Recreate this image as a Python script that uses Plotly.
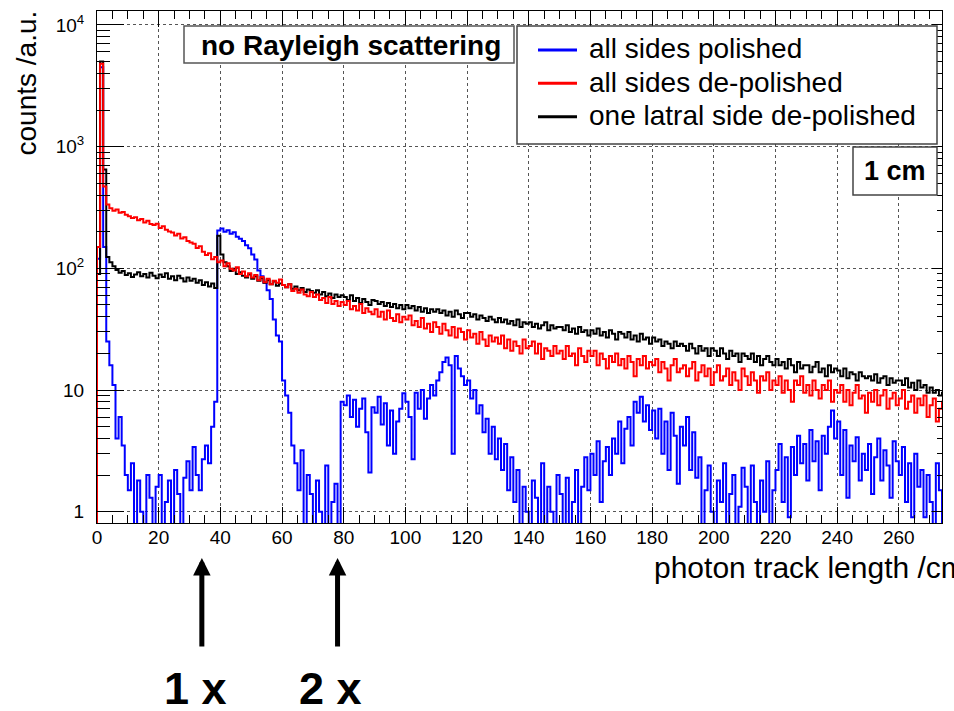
import plotly.graph_objects as go

# ---------------- data (1 cm bins, left edges 0..274 cm) ----------------
bin_left_cm = list(range(0, 275))
x_end_cm = 275

blue_counts = [
    120, 4500, 150, 25, 16, 11, 4, 6, 3.5, 2,
    1.5, 2.5, 0, 1.8, 1, 0, 2, 1.3, 0, 1.6,
    2, 0, 1.2, 1.8, 0, 2.2, 1.4, 0, 1.9, 2.6,
    1.5, 3.4, 2, 1.5, 2.7, 3.5, 2.5, 5, 8, 205,
    213, 200, 206, 192, 198, 182, 175, 168, 155, 146,
    130, 118, 96, 86, 76, 66, 56, 38, 28, 25,
    12, 9, 6.5, 3.5, 2.5, 1.5, 3.2, 0, 2, 1.4,
    0, 1.8, 1, 0, 2.4, 0, 1.2, 1.7, 0, 8,
    7.5, 9, 6, 8.3, 5, 7, 8.5, 4.5, 2.1, 7.2,
    6.5, 8.8, 5.2, 7.8, 3.5, 6.8, 3, 5.5, 7, 9.4,
    8, 6, 2.7, 9.5, 7, 10, 5.8, 8.5, 11, 9,
    12, 14, 17, 18.5, 16, 3, 19, 15, 13, 11,
    12, 8.5, 10, 6.4, 7.5, 4.5, 5.8, 3, 5, 2.7,
    4, 2.2, 3.6, 1.5, 2.8, 1.2, 2.2, 0, 1.6, 1,
    0, 1.8, 1.3, 0, 2.5, 0, 1.6, 1, 0, 2,
    1.4, 0, 1.9, 0, 1.2, 2.2, 0, 1.6, 2.8, 1.5,
    3, 2, 3.8, 1.2, 2.6, 3.4, 2, 4, 3, 5.5,
    2.5, 4.8, 6, 3.5, 8, 6.5, 8.8, 5.5, 7.5, 4.7,
    6.8, 4, 7, 3, 5.5, 2.2, 6.5, 4.2, 1.7, 5,
    3.5, 6, 2.2, 4.5, 1.9, 2.8, 0, 1.5, 2.4, 1,
    0, 1.8, 1.2, 2.5, 0, 1.4, 2, 0, 1.1, 2.3,
    1.6, 0, 2.4, 1.2, 0, 1.8, 1, 2.6, 0, 1.5,
    2.2, 3.6, 1.2, 2.8, 0.9, 3.4, 2, 4.2, 2.5, 3.6,
    1.8, 4.7, 2.6, 3.8, 1.5, 4.2, 3, 5, 6.8, 4,
    5.5, 2, 4.7, 1.3, 3.5, 2.6, 4.1, 1.8, 3, 2.2,
    3.6, 1.4, 2.8, 4, 1.8, 3.2, 2.4, 1.3, 3.8, 2.6,
    2, 3.4, 1.2, 2.5, 0.9, 3, 1.6, 2.2, 0.9, 2,
    1.2, 0, 2.5, 1.5, 0,
]

red_counts = [
    150, 4800, 470, 335, 312, 298, 305, 287, 291, 276,
    268, 259, 263, 249, 254, 238, 246, 231, 227, 233,
    215, 222, 208, 201, 197, 186, 192, 176, 180, 168,
    163, 159, 147, 152, 137, 129, 133, 119, 124, 112,
    116, 104, 110, 99, 96, 102, 90, 94, 86, 91,
    84, 88, 80, 85, 77, 82, 74, 79, 76, 81,
    73, 70, 74, 65, 68, 63, 67, 61, 59, 64,
    58, 61, 55, 57, 52, 58, 51, 54, 49, 53,
    50, 54, 46, 49, 45, 51, 43, 47, 44, 42,
    46, 40, 44, 38, 45, 39, 37, 42, 36, 40,
    38, 41, 34, 37, 33, 39, 32, 35, 30, 36,
    33, 29, 35, 31, 28, 33, 27, 32, 30, 26,
    31, 27, 29, 24, 30, 26, 23, 28, 25, 27,
    24, 28, 22, 26, 21, 25, 23, 20, 26, 22,
    23, 25, 20, 24, 18, 22, 21, 19, 23, 20,
    21, 18, 23, 19, 20, 16, 22, 19, 17, 21,
    19, 21, 16, 20, 18, 15, 19, 17, 20, 16,
    18, 15, 19, 17, 13, 18, 16, 19, 15, 17,
    16, 18, 14, 17, 15, 12, 16, 18, 14, 15,
    16, 13, 15, 17, 12, 14, 16, 13, 15, 11,
    14, 16, 12, 13, 15, 11, 14, 12, 10, 15,
    13, 11, 14, 12, 9.5, 13, 12, 14, 10, 12,
    11, 13, 9.5, 12, 10, 8, 12, 11, 13, 9.5,
    11, 9, 12, 10, 8.5, 11, 10, 12, 8, 10,
    9.5, 11, 8, 10, 7.5, 9.5, 11, 8.5, 9, 6.5,
    9.5, 8, 10, 7.5, 9, 10, 7, 8.5, 9.5, 7.5,
    8.5, 10, 7, 8, 9, 6.5, 8.5, 7.5, 9, 6,
    7.5, 8.5, 5.5, 7, 8,
]

black_counts = [
    90, 5000, 650, 124, 112, 104, 97, 92, 95, 88,
    91, 85, 89, 93, 86, 90, 84, 92, 87, 83,
    89, 85, 91, 82, 86, 80, 87, 83, 78, 84,
    79, 82, 76, 80, 73, 77, 71, 75, 69, 185,
    130, 112, 104, 95, 99, 90, 93, 87, 84, 89,
    82, 86, 79, 83, 76, 80, 74, 78, 72, 75,
    73, 70, 74, 68, 71, 66, 69, 64, 67, 65,
    63, 66, 61, 64, 59, 62, 57, 61, 58, 60,
    58, 55, 60, 54, 57, 52, 56, 53, 50, 55,
    54, 51, 53, 49, 52, 48, 51, 47, 50, 46,
    50, 47, 49, 45, 48, 44, 47, 43, 46, 44,
    46, 43, 45, 41, 44, 40, 45, 42, 39, 43,
    43, 40, 42, 38, 41, 39, 37, 40, 38, 36,
    39, 36, 38, 35, 37, 34, 38, 33, 36, 35,
    36, 33, 35, 32, 34, 36, 31, 34, 32, 33,
    33, 31, 34, 30, 32, 29, 33, 30, 31, 28,
    31, 29, 32, 28, 30, 27, 31, 29, 26, 30,
    29, 27, 30, 26, 28, 25, 29, 26, 27, 24,
    27, 25, 26, 23, 25, 24, 22, 25, 23, 24,
    23, 21, 24, 22, 20, 23, 21, 22, 19, 22,
    21, 19, 22, 20, 18, 21, 19, 20, 17, 20,
    19, 18, 20, 17, 19, 16, 18, 19, 17, 16,
    18, 16, 17, 15, 18, 16, 14, 17, 15, 16,
    16, 14, 15.5, 17, 14, 15, 13, 16, 14, 15,
    14.5, 13, 15, 12.5, 14, 13.5, 12, 14, 13, 12.5,
    13, 12, 13.5, 11.5, 12.5, 13, 11, 12.5, 11.5, 12,
    12, 11, 12.5, 10.5, 11.5, 10, 12, 10.5, 11, 9.5,
    10.5, 9.5, 10, 9, 9.5,
]

series_names = ["all sides polished", "all sides de-polished", "one latral side de-polished"]
series_colors = ["#0000ff", "#ff0000", "#000000"]

y_tick_vals = [1, 10, 100, 1000, 10000]
y_tick_text = ["1", "10", "10<sup>2</sup>", "10<sup>3</sup>", "10<sup>4</sup>"]
y_minor_vals = [m * 10 ** d for d in range(0, 5) for m in range(2, 10) if m * 10 ** d < 13000]

X_RANGE = [0, 274]
Y_RANGE = [-0.093, 4.115]   # log10 units
FLOOR = 0.3                  # empty bins are drawn below the axis on the log scale

FONT = "Liberation Sans, Arial, Helvetica, sans-serif"


def step_outline(vals):
    xs = [0] + bin_left_cm + [x_end_cm]
    ys = [FLOOR] + [v if v > 0 else FLOOR for v in vals] + [vals[-1] if vals[-1] > 0 else FLOOR]
    return xs, ys


fig = go.Figure()
# draw order: blue, black, red (red on top)
for vals, idx in [(blue_counts, 0), (black_counts, 2), (red_counts, 1)]:
    xs, ys = step_outline(vals)
    fig.add_trace(go.Scatter(x=xs, y=ys, mode="lines", name=series_names[idx],
                             line=dict(color=series_colors[idx], width=2, shape="hv"),
                             showlegend=False, hoverinfo="skip"))
# empty trace for the right-hand tick axis
fig.add_trace(go.Scatter(x=[], y=[], yaxis="y2", showlegend=False))

# ---------------- layout helpers ----------------
L, R, T, B = 97, 12, 11, 188
W, H = 954, 711
PW, PH = W - L - R, H - T - B


def px_x(px):
    return (px - L) / PW


def px_y(py):
    return (H - B - py) / PH


shapes = []
annotations = []

# "no Rayleigh scattering" box
shapes.append(dict(type="rect", xref="paper", yref="paper",
                   x0=px_x(184), x1=px_x(514), y0=px_y(63), y1=px_y(26),
                   line=dict(color="#555555", width=1.5), fillcolor="white", layer="above"))
annotations.append(dict(text="<b>no Rayleigh scattering</b>", xref="paper", yref="paper",
                        x=px_x(351), y=px_y(45.5), xanchor="center", yanchor="middle",
                        showarrow=False, font=dict(size=28, color="black", family=FONT)))

# legend box
shapes.append(dict(type="rect", xref="paper", yref="paper",
                   x0=px_x(517), x1=px_x(937), y0=px_y(144), y1=px_y(26),
                   line=dict(color="#444444", width=1.5), fillcolor="white", layer="above"))
legend_line_y = [50, 83.3, 116.7]
legend_text_y = [48.6, 82, 115.3]
for i in range(3):
    shapes.append(dict(type="line", xref="paper", yref="paper",
                       x0=px_x(538), x1=px_x(577), y0=px_y(legend_line_y[i]), y1=px_y(legend_line_y[i]),
                       line=dict(color=series_colors[i], width=3), layer="above"))
    annotations.append(dict(text=series_names[i], xref="paper", yref="paper",
                            x=px_x(587), y=px_y(legend_text_y[i]), xanchor="left", yanchor="middle",
                            showarrow=False, font=dict(size=28, color="black", family=FONT)))

# "1 cm" box
shapes.append(dict(type="rect", xref="paper", yref="paper",
                   x0=px_x(853), x1=px_x(937), y0=px_y(195), y1=px_y(147),
                   line=dict(color="#444444", width=1.5), fillcolor="white", layer="above"))
annotations.append(dict(text="<b>1 cm</b>", xref="paper", yref="paper",
                        x=px_x(895), y=px_y(170.6), xanchor="center", yanchor="middle",
                        showarrow=False, font=dict(size=27, color="black", family=FONT)))

# axis titles (ROOT style, at the axis ends)
annotations.append(dict(text="counts /a.u.", xref="paper", yref="paper",
                        x=px_x(26), y=px_y(83.5), xanchor="center", yanchor="middle",
                        textangle=-90, showarrow=False,
                        font=dict(size=28, color="black", family=FONT)))
annotations.append(dict(text="photon track length /cm", xref="paper", yref="paper",
                        x=px_x(652), y=px_y(567), xanchor="left", yanchor="middle",
                        showarrow=False, font=dict(size=30, color="black", family=FONT)))

# arrows and labels below the axis
arrow_x_cm = [34, 78]
arrow_labels = ["<b>1 x</b>", "<b>2 x</b>"]
label_px = [195, 330]
for i in range(2):
    annotations.append(dict(text="", x=arrow_x_cm[i], xref="x", y=px_y(558), yref="paper",
                            ax=0, ay=90, showarrow=True, arrowhead=2, arrowsize=0.7,
                            arrowwidth=5, arrowcolor="black"))
    annotations.append(dict(text=arrow_labels[i], xref="paper", yref="paper",
                            x=px_x(label_px[i]), y=px_y(688), xanchor="center", yanchor="middle",
                            showarrow=False, font=dict(size=45, color="black", family=FONT)))

fig.update_layout(
    width=W, height=H,
    margin=dict(l=L, r=R, t=T, b=B, pad=0),
    paper_bgcolor="white", plot_bgcolor="white",
    font=dict(family=FONT, color="black"),
    showlegend=False,
    xaxis=dict(range=X_RANGE, showline=True, linecolor="black", linewidth=1, mirror="ticks",
               ticks="inside", ticklen=16, tickwidth=1, tickcolor="black",
               tick0=0, dtick=20, ticklabelstandoff=-3,
               minor=dict(ticks="inside", ticklen=8, dtick=5, tick0=0, tickcolor="black", showgrid=False),
               showgrid=True, gridcolor="#555555", griddash="dot", gridwidth=1,
               zeroline=False, tickfont=dict(size=19, color="black", family=FONT)),
    yaxis=dict(type="log", range=Y_RANGE, showline=True, linecolor="black", linewidth=1, mirror=True,
               tickmode="array", tickvals=y_tick_vals, ticktext=y_tick_text,
               ticks="inside", ticklen=27, tickwidth=1, tickcolor="black", ticklabelstandoff=8,
               minor=dict(tickmode="array", tickvals=y_minor_vals, ticks="inside", ticklen=13,
                          tickcolor="black", showgrid=False),
               showgrid=True, gridcolor="#555555", griddash="dot", gridwidth=1,
               zeroline=False, tickfont=dict(size=19, color="black", family=FONT)),
    yaxis2=dict(type="log", range=Y_RANGE, overlaying="y", side="right",
                tickmode="array", tickvals=y_tick_vals, showticklabels=False,
                ticks="inside", ticklen=10, tickcolor="black",
                minor=dict(tickmode="array", tickvals=y_minor_vals, ticks="inside", ticklen=5,
                           tickcolor="black", showgrid=False),
                showgrid=False, zeroline=False, showline=False),
    shapes=shapes,
    annotations=annotations,
)

fig.write_html("out.html")
